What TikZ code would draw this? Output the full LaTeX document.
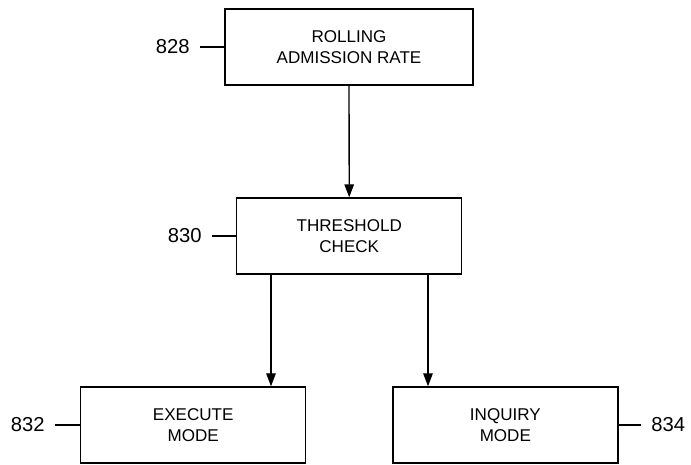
\documentclass[tikz,border=0pt]{standalone}
\usepackage{fontspec}
\setmainfont{Liberation Sans}
\usepackage{tikz}
\usetikzlibrary{positioning, arrows.meta}

\begin{document}
\begin{tikzpicture}[
    >={Triangle[length=0.26cm, width=0.19cm]},
    flow/.style={->, line width=0.75pt},
    block/.style={draw, line width=0.75pt, minimum height=1.52cm, align=center,
                  font=\fontsize{9.7}{11.9}\selectfont},
    refnum/.style={inner sep=0.2cm, font=\fontsize{11.5}{13}\selectfont}
]

% Picture frame
\useasboundingbox (0, 0) rectangle (13.82, -9.3);

% Blocks
\node[block, minimum width=4.96cm] (rate) at (6.98, -0.94) {ROLLING\\ADMISSION RATE};
\node[block, minimum width=4.5cm] (check) at (6.985, -4.72) {THRESHOLD\\CHECK};
\node[block, minimum width=4.5cm] (execute) at (3.864, -8.5) {EXECUTE\\MODE};
\node[block, minimum width=4.5cm] (inquiry) at (10.107, -8.5) {INQUIRY\\MODE};

% Reference numerals
\node[refnum, anchor=east] (n828) at (4.0, -0.94) {828};
\node[refnum, anchor=east] (n830) at (4.24, -4.72) {830};
\node[refnum, anchor=east] (n832) at (1.1, -8.5) {832};
\node[refnum, anchor=west] (n834) at (12.82, -8.5) {834};

\draw[line width=0.75pt] (n828.east) -- (rate.west);
\draw[line width=0.75pt] (n830.east) -- (check.west);
\draw[line width=0.75pt] (n832.east) -- (execute.west);
\draw[line width=0.75pt] (n834.west) -- (inquiry.east);

% Flow
\draw[flow] (rate) -- (check);
\draw[flow] (check.south -| 5.42, 0) -- (execute.north -| 5.42, 0);
\draw[flow] (check.south -| 8.56, 0) -- (inquiry.north -| 8.56, 0);

\end{tikzpicture}
\end{document}
